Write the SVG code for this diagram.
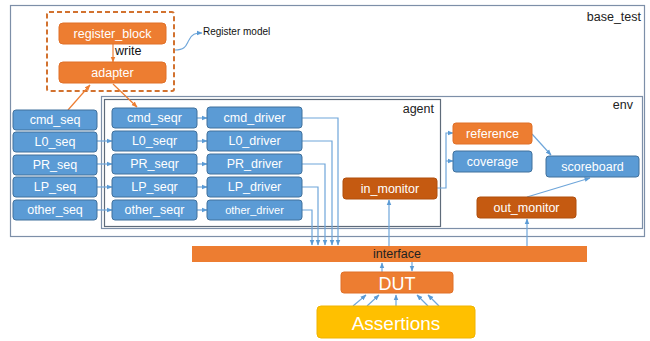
<svg xmlns="http://www.w3.org/2000/svg" width="650" height="341" viewBox="0 0 650 341">
<defs>
<marker id="ab" viewBox="0 0 10 10" refX="9" refY="5" markerWidth="6" markerHeight="6" markerUnits="userSpaceOnUse" orient="auto"><path d="M0,1 L10,5 L0,9 z" fill="#5B9BD5"/></marker>
<marker id="ao" viewBox="0 0 10 10" refX="9" refY="5" markerWidth="6" markerHeight="6" markerUnits="userSpaceOnUse" orient="auto"><path d="M0,1 L10,5 L0,9 z" fill="#ED7D31"/></marker>
<style>
text{font-family:"Liberation Sans",Arial,sans-serif}
.b rect{fill:#5B9BD5;stroke:#41719C;stroke-width:1}
.o rect{fill:#ED7D31;stroke:#E07028;stroke-width:1}
.d rect{fill:#C55A11;stroke:#B04E0D;stroke-width:1}
.y rect{fill:#FFC000;stroke:#F0B400;stroke-width:1}
.n text{fill:#fff;font-size:12.5px;text-anchor:middle}
.frame{fill:none;stroke:#7D8FA8;stroke-width:1.2}
.lbl{fill:#222;font-size:12.5px;text-anchor:end}
.c path,.c line,.c polyline{fill:none;stroke:#6FA6DA;stroke-width:1.2}
.c .or{stroke:#ED7D31}
</style>
</defs>
<rect width="650" height="341" fill="#fff"/>

<g id="frames">
<rect class="frame" x="10.5" y="5.5" width="634" height="231"/>
<text class="lbl" x="641" y="21">base_test</text>
<rect class="frame" x="101.5" y="96.5" width="541" height="132"/>
<text class="lbl" x="633" y="109">env</text>
<rect x="104.5" y="99.5" width="336" height="127" fill="none" stroke="#5E6B7A" stroke-width="1.2"/>
<text class="lbl" x="434" y="113">agent</text>
<rect x="47" y="12" width="127" height="79" rx="2" fill="none" stroke="#D2722F" stroke-width="2" stroke-dasharray="5,3"/>
<text x="203" y="35" font-size="10" fill="#111">Register model</text>
</g>

<g class="c" id="connectors">
<path d="M175,50 C186,50 186,45 189,40 C192,34 195,33 202,33" marker-end="url(#ab)"/>
<line class="or" x1="113" y1="44" x2="113" y2="62" marker-end="url(#ao)"/>
<line class="or" x1="68" y1="110" x2="90" y2="85" marker-end="url(#ao)"/>
<line class="or" x1="113" y1="84" x2="137" y2="107" marker-end="url(#ao)"/>
<line x1="97" y1="141" x2="112" y2="141" marker-end="url(#ab)"/>
<line x1="97" y1="164" x2="112" y2="164" marker-end="url(#ab)"/>
<line x1="97" y1="187" x2="112" y2="187" marker-end="url(#ab)"/>
<line x1="97" y1="210" x2="112" y2="210" marker-end="url(#ab)"/>
<line x1="197" y1="118" x2="207" y2="118" marker-end="url(#ab)"/>
<line x1="197" y1="141" x2="207" y2="141" marker-end="url(#ab)"/>
<line x1="197" y1="164" x2="207" y2="164" marker-end="url(#ab)"/>
<line x1="197" y1="187" x2="207" y2="187" marker-end="url(#ab)"/>
<line x1="197" y1="210" x2="207" y2="210" marker-end="url(#ab)"/>
<polyline points="302,118 338,118 338,245" marker-end="url(#ab)"/>
<polyline points="302,141 332,141 332,245" marker-end="url(#ab)"/>
<polyline points="302,164 325,164 325,245" marker-end="url(#ab)"/>
<polyline points="302,187 318,187 318,245" marker-end="url(#ab)"/>
<polyline points="302,210 312,210 312,245" marker-end="url(#ab)"/>
<line x1="389" y1="246" x2="389" y2="200" marker-end="url(#ab)"/>
<polyline points="437,188 446,188 446,133 453,133" marker-end="url(#ab)"/>
<polyline points="446,161 453,161" marker-end="url(#ab)"/>
<line x1="532" y1="134" x2="551" y2="155" marker-end="url(#ab)"/>
<line x1="527" y1="197" x2="590" y2="178" marker-end="url(#ab)"/>
<line x1="527" y1="246" x2="527" y2="219" marker-end="url(#ab)"/>
<line x1="382" y1="272" x2="382" y2="263" marker-end="url(#ab)"/>
<line x1="412" y1="262" x2="412" y2="271" marker-end="url(#ab)"/>
<line x1="353" y1="306" x2="366" y2="295" marker-end="url(#ab)"/>
<line x1="367" y1="306" x2="379" y2="295" marker-end="url(#ab)"/>
<line x1="396" y1="306" x2="396" y2="295" marker-end="url(#ab)"/>
<line x1="428" y1="306" x2="417" y2="295" marker-end="url(#ab)"/>
<line x1="439" y1="306" x2="428" y2="295" marker-end="url(#ab)"/>
</g>

<g id="register_block" class="o n"><rect x="59" y="23" width="107" height="21" rx="4"/><text x="112.5" y="38">register_block</text></g>
<text x="115" y="55" font-size="12.5" fill="#111">write</text>
<g id="adapter" class="o n"><rect x="59" y="62" width="107" height="21" rx="4"/><text x="112.5" y="77">adapter</text></g>

<g id="cmd_seq" class="b n"><rect x="13" y="110" width="84" height="20" rx="3"/><text x="55" y="124">cmd_seq</text></g>
<g id="L0_seq" class="b n"><rect x="13" y="132" width="84" height="20" rx="3"/><text x="55" y="146">L0_seq</text></g>
<g id="PR_seq" class="b n"><rect x="13" y="155" width="84" height="20" rx="3"/><text x="55" y="169">PR_seq</text></g>
<g id="LP_seq" class="b n"><rect x="13" y="177" width="84" height="20" rx="3"/><text x="55" y="191">LP_seq</text></g>
<g id="other_seq" class="b n"><rect x="13" y="200" width="84" height="20" rx="3"/><text x="55" y="214">other_seq</text></g>

<g id="cmd_seqr" class="b n"><rect x="112" y="108" width="85" height="20" rx="3"/><text x="154.5" y="122">cmd_seqr</text></g>
<g id="L0_seqr" class="b n"><rect x="112" y="131" width="85" height="20" rx="3"/><text x="154.5" y="145">L0_seqr</text></g>
<g id="PR_seqr" class="b n"><rect x="112" y="154" width="85" height="20" rx="3"/><text x="154.5" y="168">PR_seqr</text></g>
<g id="LP_seqr" class="b n"><rect x="112" y="177" width="85" height="20" rx="3"/><text x="154.5" y="191">LP_seqr</text></g>
<g id="other_seqr" class="b n"><rect x="112" y="200" width="85" height="20" rx="3"/><text x="154.5" y="214">other_seqr</text></g>

<g id="cmd_driver" class="b n"><rect x="207" y="107" width="95" height="21" rx="3"/><text x="254.5" y="122">cmd_driver</text></g>
<g id="L0_driver" class="b n"><rect x="207" y="131" width="95" height="20" rx="3"/><text x="254.5" y="145">L0_driver</text></g>
<g id="PR_driver" class="b n"><rect x="207" y="154" width="95" height="20" rx="3"/><text x="254.5" y="168">PR_driver</text></g>
<g id="LP_driver" class="b n"><rect x="207" y="177" width="95" height="20" rx="3"/><text x="254.5" y="191">LP_driver</text></g>
<g id="other_driver" class="b n"><rect x="207" y="200" width="95" height="20" rx="3"/><text x="254.5" y="214" style="font-size:11px">other_driver</text></g>

<g id="in_monitor" class="d n"><rect x="343" y="178" width="94" height="21" rx="3"/><text x="390" y="193">in_monitor</text></g>
<g id="reference" class="o n"><rect x="453" y="123" width="79" height="21" rx="3"/><text x="492.5" y="138">reference</text></g>
<g id="coverage" class="b n"><rect x="453" y="151" width="79" height="21" rx="3"/><text x="492.5" y="166">coverage</text></g>
<g id="scoreboard" class="b n"><rect x="546" y="156" width="93" height="21" rx="3"/><text x="592.5" y="171">scoreboard</text></g>
<g id="out_monitor" class="d n"><rect x="477" y="197" width="99" height="21" rx="3"/><text x="526.5" y="212">out_monitor</text></g>

<g id="interface"><rect x="192" y="246" width="395" height="16" fill="#ED7D31"/><text x="397" y="258" font-size="12.5" fill="#222" text-anchor="middle">interface</text></g>
<g id="DUT" class="o"><rect x="341" y="272" width="112" height="21" rx="3"/><text x="397" y="290" font-size="18" fill="#fff" text-anchor="middle">DUT</text></g>
<g id="Assertions" class="y"><rect x="317" y="306" width="158" height="32" rx="4"/><text x="396" y="330" font-size="19" fill="#fff" text-anchor="middle">Assertions</text></g>
</svg>
